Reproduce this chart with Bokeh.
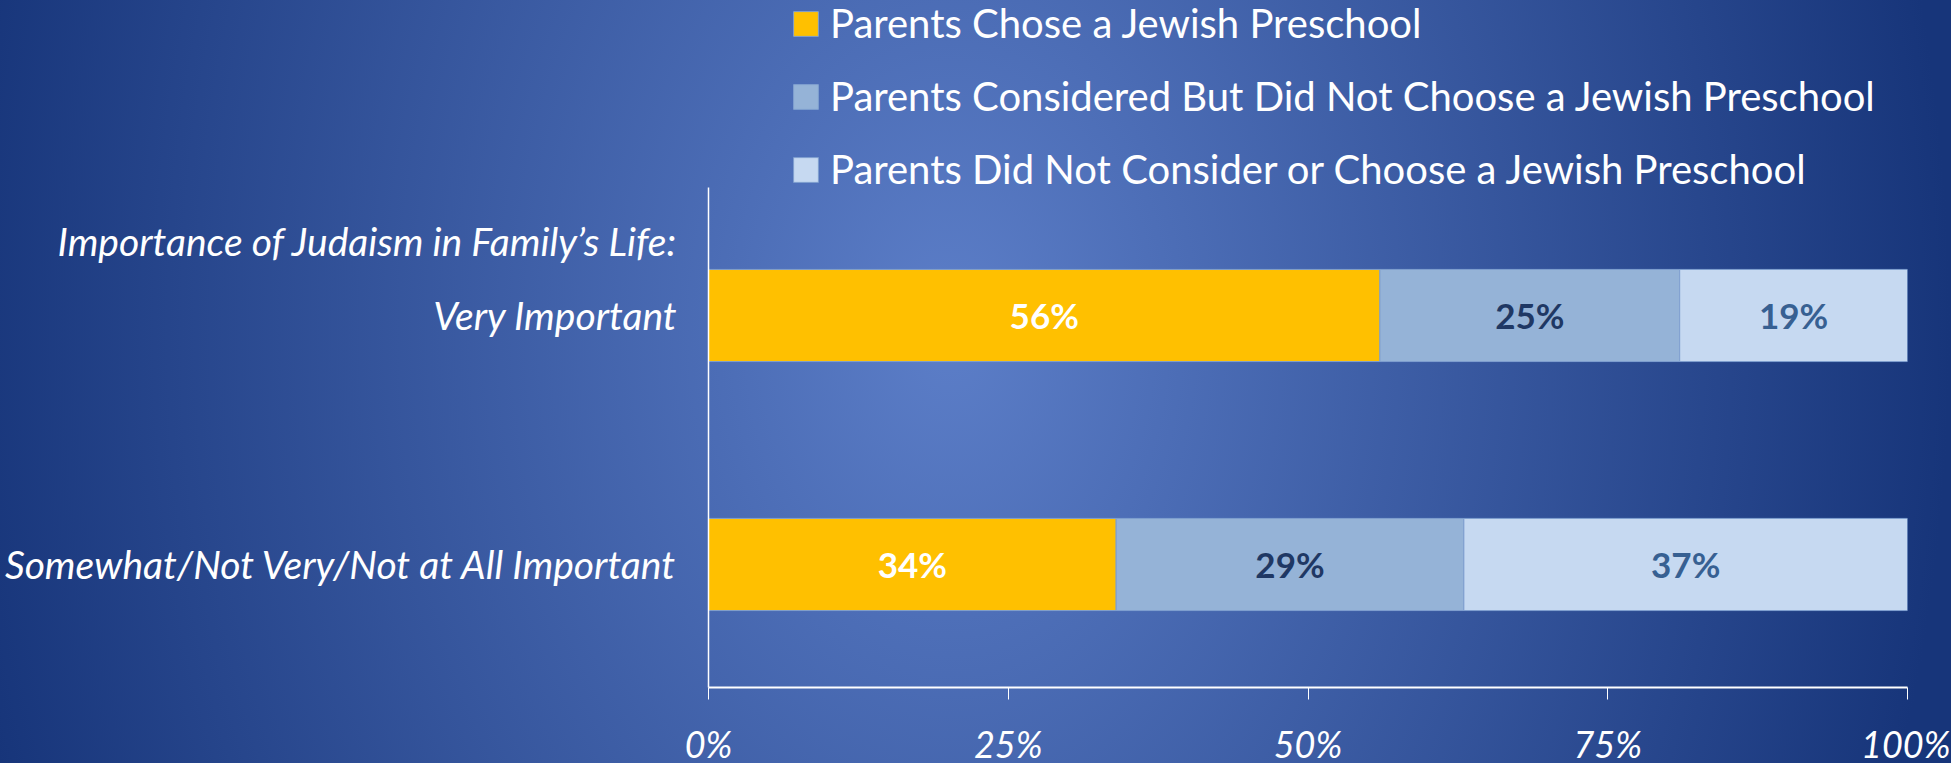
from bokeh.plotting import figure
from bokeh.models import Range1d, FixedTicker, Legend, LegendItem, ColumnDataSource
from bokeh.core.properties import value
from bokeh.embed import file_html
from bokeh.resources import INLINE
from jinja2 import Template

# ---- data ----
categories = ["Very Important", "Somewhat/Not Very/Not at All Important"]
series_names = [
    "Parents Chose a Jewish Preschool",
    "Parents Considered But Did Not Choose a Jewish Preschool",
    "Parents Did Not Consider or Choose a Jewish Preschool",
]
chose = [56, 34]
considered = [25, 29]
not_considered = [19, 37]
x_ticks = [0, 25, 50, 75, 100]
x_tick_labels = ["0%", "25%", "50%", "75%", "100%"]
header = "Importance of Judaism in Family\u2019s Life:"

# ---- style / positions ----
FONT = "Lato"
colors = ["#FFC000", "#95B3D7", "#C6D9F1"]
label_colors = ["#FFFFFF", "#1F3864", "#376092"]
header_pos = -0.3
y_bottom, y_axis_top, y_top = 1.494, -0.514, -1.265

series = [chose, considered, not_considered]
keys = ["chose", "considered", "not_considered"]
y_pos = list(range(len(categories)))
src = ColumnDataSource(dict(y=y_pos, chose=chose, considered=considered,
                            not_considered=not_considered))

p = figure(
    y_range=Range1d(y_bottom, y_top),
    x_range=Range1d(0, 100),
    frame_width=1199, frame_height=687,
    min_border_left=708, min_border_right=43, min_border_top=0, min_border_bottom=73,
    output_backend="svg", toolbar_location=None,
)
p.background_fill_color = None
p.border_fill_color = None
p.outline_line_color = None
p.grid.visible = False

renderers = p.hbar_stack(keys, y="y", height=0.37, color=colors, source=src,
                         line_color="#7F9FCF", line_width=1)

# value labels
cum = [0] * len(categories)
for vals, col in zip(series, label_colors):
    centers = [c + v / 2 for c, v in zip(cum, vals)]
    p.text(x=centers, y=y_pos, text=[f"{v}%" for v in vals],
           text_font=value(FONT), text_font_style="bold", text_font_size="35px",
           text_color=col, text_align="center", text_baseline="middle")
    cum = [c + v for c, v in zip(cum, vals)]

# x axis
xa = p.xaxis[0]
xa.ticker = FixedTicker(ticks=x_ticks)
xa.major_label_overrides = dict(zip(x_ticks, x_tick_labels))
xa.axis_line_color = "white"
xa.axis_line_width = 2
xa.major_tick_line_color = "white"
xa.major_tick_out = 12
xa.major_tick_in = 0
xa.minor_tick_line_color = None
xa.major_label_text_color = "white"
xa.major_label_text_font = FONT
xa.major_label_text_font_style = "italic"
xa.major_label_text_font_size = "36px"
xa.major_label_standoff = 22

# y axis (category labels + header)
ya = p.yaxis[0]
ya.bounds = (y_axis_top, y_bottom)
ya.ticker = FixedTicker(ticks=[header_pos] + y_pos)
ya.major_label_overrides = {header_pos: header, **dict(zip(y_pos, categories))}
ya.axis_line_color = "white"
ya.axis_line_width = 1.5
ya.major_tick_line_color = None
ya.major_tick_out = 0
ya.minor_tick_line_color = None
ya.major_label_text_color = "white"
ya.major_label_text_font = FONT
ya.major_label_text_font_style = "italic"
ya.major_label_text_font_size = "39px"
ya.major_label_standoff = 31

legend = Legend(
    items=[LegendItem(label=n, renderers=[r]) for n, r in zip(series_names, renderers)],
    location=(82, 494), orientation="vertical",
    label_text_font=FONT, label_text_font_size="40px", label_text_color="white",
    glyph_width=31, glyph_height=31, label_standoff=9, spacing=25,
    padding=0, margin=0, border_line_color=None, background_fill_alpha=0,
)
p.add_layout(legend)

template = Template("""{% extends base %}
{% block preamble %}
<style>
html { height: 100%; background: radial-gradient(ellipse 1000px 1400px at 950px 330px, #5c7ec8 0%, #17357a 100%); }
body { background: transparent; }
</style>
{% endblock %}
""")

open("out.html", "w").write(file_html(p, INLINE, template=template))
